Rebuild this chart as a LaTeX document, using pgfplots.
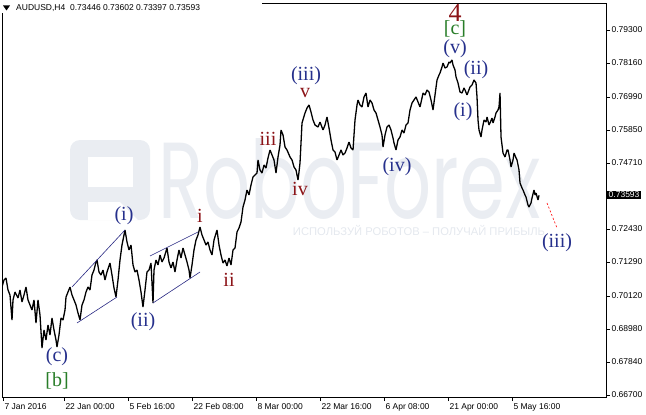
\documentclass[border=0pt]{standalone}
\usepackage{fontspec}
\setmainfont{Liberation Serif}
\newfontfamily\uifont{Liberation Sans}
\newfontfamily\wmfont{Poppins}
\usepackage{graphicx}
\usepackage{pgfplots}
\pgfplotsset{compat=1.18}
\definecolor{wblue}{RGB}{38,48,140}
\definecolor{wred}{RGB}{140,20,24}
\definecolor{wgreen}{RGB}{40,125,40}
\definecolor{wm}{RGB}{234,237,242}
\definecolor{wm2}{RGB}{228,232,238}
\definecolor{chan}{RGB}{40,40,130}
\begin{document}
\begin{tikzpicture}[x=1bp,y=1bp]
% watermark
\fill[wm,rounded corners=10bp] (70,194) -- (70,274) -- (150,274) -- (150,194) -- cycle;
\fill[white] (88,227) rectangle (133,257);
\fill[white] (88,194) -- (88,212) -- (120,212) -- (138,194) -- cycle;
\node[anchor=south west,inner sep=0pt,text=wm] at (158,194) {\resizebox{382bp}{80bp}{\wmfont RoboForex}};
\node[anchor=center,inner sep=0pt,text=wm2] at (419,184) {\resizebox{252bp}{!}{\uifont ИСПОЛЬЗУЙ РОБОТОВ – ПОЛУЧАЙ ПРИБЫЛЬ}};
\begin{axis}[
  at={(2bp,17bp)}, anchor=south west,
  width=604bp, height=394bp, scale only axis,
  xmin=2, xmax=606, ymin=0.66631, ymax=0.80232,
  axis line style={line width=0.8bp},
  tick align=outside, major tick length=4bp,
  tick style={line width=0.6bp,black},
  ytick pos=right, xtick pos=bottom,
  ytick={0.667,0.6784,0.6898,0.7012,0.7129,0.7243,0.7471,0.7585,0.7699,0.7816,0.793},
  yticklabels={0.66700,0.67840,0.68980,0.70120,0.71290,0.72430,0.74710,0.75850,0.76990,0.78160,0.79300},
  yticklabel style={font=\uifont\fontsize{8.5bp}{10bp}\selectfont, anchor=west, xshift=-2bp},
  xtick={3,64,128,192,256,320,384,448,512},
  xticklabels={7 Jan 2016,22 Jan 00:00,5 Feb 16:00,22 Feb 08:00,8 Mar 00:00,22 Mar 16:00,6 Apr 08:00,21 Apr 00:00,5 May 16:00},
  xticklabel style={font=\uifont\fontsize{8.5bp}{10bp}\selectfont, anchor=north west, xshift=-2bp, yshift=1bp},
]
\addplot[black, line width=1.3bp, line join=bevel] coordinates {
(2,0.70428)(4,0.70670)(6,0.70739)(8,0.70325)(10,0.70152)(12,0.69289)(13,0.69980)(15,0.70256)(18,0.70049)(20,0.70325)
(22,0.69911)(24,0.70152)(26,0.70428)(28,0.69980)(30,0.69807)(32,0.69634)(34,0.69980)(36,0.69186)(38,0.69980)(40,0.69462)
(42,0.68323)(44,0.68944)(46,0.68599)(48,0.69117)(50,0.68771)(52,0.69358)(54,0.68944)(56,0.68599)(57,0.68357)(59,0.68771)
(61,0.69358)(63,0.69289)(65,0.69634)(66,0.70083)(68,0.70256)(70,0.70428)(72,0.70152)(74,0.69980)(76,0.69807)(78,0.69531)
(80,0.69289)(82,0.69807)(84,0.69980)(86,0.70256)(88,0.70428)(90,0.70325)(92,0.70843)(94,0.71015)(96,0.71292)(97,0.71361)
(99,0.70946)(101,0.70843)(103,0.71015)(105,0.70670)(107,0.70946)(110,0.71257)(112,0.70843)(114,0.70394)(116,0.70083)(118,0.70670)
(120,0.71361)(122,0.71878)(124,0.72224)(125,0.72396)(127,0.71982)(129,0.71706)(131,0.71878)(133,0.71188)(135,0.70946)(137,0.71015)
(139,0.70670)(141,0.70256)(143,0.69738)(145,0.70325)(147,0.70946)(149,0.71015)(151,0.71257)(153,0.69876)(154,0.71015)(156,0.71361)
(158,0.71188)(160,0.71533)(162,0.71292)(164,0.71430)(167,0.71775)(169,0.71292)(171,0.71084)(173,0.71292)(175,0.70946)(177,0.71361)
(179,0.71706)(181,0.71430)(183,0.71775)(185,0.71533)(187,0.71292)(189,0.71015)(190,0.70739)(192,0.71188)(194,0.71706)(196,0.72051)
(198,0.72224)(200,0.72500)(202,0.72224)(204,0.72051)(206,0.71878)(208,0.71982)(210,0.71706)(212,0.71533)(214,0.72051)(217,0.72396)
(219,0.71878)(221,0.71533)(223,0.71257)(225,0.71361)(227,0.71153)(229,0.71430)(231,0.71188)(233,0.71706)(235,0.71775)(237,0.72327)
(239,0.72465)(241,0.72672)(243,0.73190)(245,0.73432)(247,0.73777)(249,0.73604)(251,0.73950)(253,0.74226)(255,0.74295)(257,0.74364)
(258,0.74813)(260,0.74467)(262,0.74364)(264,0.74640)(266,0.74536)(268,0.74882)(270,0.75158)(272,0.74985)(274,0.74813)(276,0.74364)
(278,0.74916)(280,0.75330)(281,0.75848)(283,0.75676)(285,0.75261)(287,0.75158)(290,0.74916)(292,0.74813)(294,0.74571)(296,0.74467)
(298,0.74122)(299,0.74398)(300,0.74709)(302,0.76090)(305,0.76435)(307,0.76608)(309,0.76711)(311,0.76470)(313,0.76193)(315,0.76021)
(318,0.75952)(320,0.76124)(323,0.75848)(325,0.76021)(327,0.76297)(329,0.75917)(331,0.75503)(333,0.75158)(335,0.75089)(337,0.74813)
(339,0.74985)(341,0.75158)(343,0.74985)(345,0.75054)(347,0.75227)(349,0.75434)(351,0.75227)(353,0.75158)(355,0.76193)(357,0.76711)
(358,0.76884)(360,0.76711)(362,0.76642)(364,0.76987)(366,0.77125)(368,0.76642)(370,0.76884)(372,0.76780)(374,0.76539)(376,0.76435)
(378,0.76193)(380,0.75952)(382,0.75676)(383,0.75261)(385,0.75676)(387,0.75952)(389,0.76021)(391,0.75848)(393,0.75572)(394,0.75399)
(396,0.75158)(398,0.75503)(400,0.75607)(402,0.75848)(404,0.75745)(406,0.76021)(408,0.76090)(410,0.76539)(412,0.76780)(414,0.76884)
(416,0.76987)(418,0.76815)(420,0.76642)(422,0.76953)(423,0.77125)(425,0.77056)(427,0.77229)(429,0.77160)(431,0.76884)(433,0.76539)
(435,0.77056)(437,0.77574)(439,0.77747)(440,0.77816)(442,0.78023)(443,0.78161)(445,0.77988)(447,0.78023)(449,0.78196)(450,0.78161)
(452,0.78265)(453,0.78092)(455,0.77919)(456,0.77678)(458,0.77471)(460,0.77160)(462,0.77125)(464,0.77298)(465,0.77229)(467,0.77056)
(470,0.77333)(472,0.77402)(474,0.77574)(476,0.77471)(477,0.76987)(478,0.76193)(479,0.75848)(481,0.75607)(482,0.75848)(484,0.76193)
(486,0.76124)(487,0.76297)(489,0.76021)(490,0.76090)(492,0.76262)(493,0.76090)(495,0.76297)(496,0.76435)(498,0.76539)(499,0.76642)
(500,0.77125)(501,0.75607)(503,0.75054)(505,0.74916)(507,0.75158)(508,0.75158)(510,0.74813)(511,0.74571)(513,0.74813)(514,0.75054)
(516,0.74882)(517,0.74813)(519,0.74467)(520,0.74019)(522,0.73846)(523,0.73777)(525,0.73604)(526,0.73535)(528,0.73259)(529,0.73190)
(531,0.73328)(532,0.73501)(534,0.73777)(535,0.73604)(536,0.73673)(538,0.73432)(539,0.73593)
};
% channel lines
\addplot[chan, line width=0.6bp] coordinates {(72,0.70428)(125,0.72396)};
\addplot[chan, line width=0.6bp] coordinates {(77,0.69186)(117,0.70083)};
\addplot[chan, line width=0.6bp] coordinates {(150,0.71499)(198,0.72327)};
\addplot[chan, line width=0.6bp] coordinates {(153,0.69876)(200,0.70946)};
% projection
\addplot[red, line width=0.6bp, dash pattern=on 2bp off 2bp] coordinates {(547,0.73328)(557,0.72465)};
\end{axis}
% header
\fill[white] (0,401) rectangle (262,414);
\fill[black] (3,408.5) -- (10,408.5) -- (6.5,403.5) -- cycle;
\node[anchor=west,inner sep=0pt,font=\uifont\fontsize{8.5bp}{10bp}\selectfont] at (16,405.5) {AUDUSD,H4\ \ 0.73446 0.73602 0.73397 0.73593};
% current price label
\draw[line width=0.6bp] (606,219) -- (610,219);
\node[fill=black,text=white,inner xsep=1.5bp,inner ysep=1bp,anchor=west,font=\uifont\fontsize{8.5bp}{10bp}\selectfont] at (607,219) {0.73593};
% wave labels
\begin{scope}[every node/.style={inner sep=0pt,font=\fontsize{20bp}{20bp}\selectfont}]
\node[text=wblue] at (57,57) {(c)};
\node[text=wgreen] at (57,33) {[b]};
\node[text=wblue] at (124,198) {(i)};
\node[text=wblue] at (143,92) {(ii)};
\node[text=wred] at (200,198) {i};
\node[text=wred] at (229,134) {ii};
\node[text=wred] at (268,275) {iii};
\node[text=wred] at (300,225) {iv};
\node[text=wred] at (305,321) {v};
\node[text=wblue] at (306,338) {(iii)};
\node[text=wblue] at (397,247) {(iv)};
\node[text=wblue] at (455,365) {(v)};
\node[text=wgreen] at (455,385) {[c]};
\node[text=wred,font=\fontsize{26bp}{26bp}\selectfont] at (455,401) {4};
\node[text=wblue] at (476,344) {(ii)};
\node[text=wblue] at (463,302) {(i)};
\node[text=wblue] at (557,171) {(iii)};
\end{scope}
\pgfresetboundingbox
\useasboundingbox (0,0) rectangle (646,414);
\end{tikzpicture}
\end{document}
